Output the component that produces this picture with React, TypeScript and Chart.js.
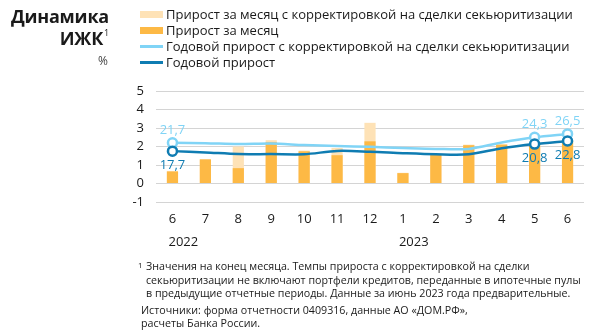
import React, { useEffect, useRef } from "react";
import { Chart, registerables } from "chart.js";

Chart.register(...registerables);

const months = ["6", "7", "8", "9", "10", "11", "12", "1", "2", "3", "4", "5", "6"];
const yearLabels = [
  { index: 0, text: "2022" },
  { index: 7, text: "2023" },
];
const monthlyGrowthAdj = [0.68, 1.32, 2.0, 2.34, 1.78, 1.92, 3.28, 0.58, 1.58, 2.1, 2.12, 2.1, 2.35];
const monthlyGrowth = [0.65, 1.3, 0.83, 2.23, 1.74, 1.53, 2.28, 0.56, 1.55, 2.07, 2.1, 2.07, 2.3];
const annualGrowthAdj = [2.2, 2.18, 2.13, 2.16, 2.08, 2.03, 1.98, 1.92, 1.87, 1.87, 2.22, 2.5, 2.68];
const annualGrowth = [1.75, 1.68, 1.59, 1.59, 1.58, 1.76, 1.72, 1.64, 1.58, 1.58, 1.9, 2.13, 2.3];
const annualGrowthAdjLabels: (string | null)[] = ["21,7", null, null, null, null, null, null, null, null, null, null, "24,3", "26,5"];
const annualGrowthLabels: (string | null)[] = ["17,7", null, null, null, null, null, null, null, null, null, null, "20,8", "22,8"];
const yTicks = [-1, 0, 1, 2, 3, 4, 5];

const seriesNames = [
  "Прирост за месяц с корректировкой на сделки секьюритизации",
  "Прирост за месяц",
  "Годовой прирост с корректировкой на сделки секьюритизации",
  "Годовой прирост",
];

const C_LIGHT_ORANGE = "#FEE2B6";
const C_ORANGE = "#FDB945";
const C_LIGHT_BLUE = "#80D4F6";
const C_DARK_BLUE = "#0F7CB2";
const FONT = "'Open Sans', 'DejaVu Sans', sans-serif";

const markerIdx = [0, 11, 12];

// dataset indices in the chart below
const DS_DARK = 0;
const DS_LIGHT = 1;

const overlayPlugin = {
  id: "overlay",
  afterDatasetsDraw(chart: any) {
    const ctx = chart.ctx;
    const labelSets = [
      { ds: DS_LIGHT, labels: annualGrowthAdjLabels, color: C_LIGHT_BLUE, dy: -13 },
      { ds: DS_DARK, labels: annualGrowthLabels, color: C_DARK_BLUE, dy: 14 },
    ];
    ctx.save();
    ctx.font = `13px ${FONT}`;
    ctx.textAlign = "center";
    ctx.textBaseline = "middle";
    labelSets.forEach((s) => {
      const meta = chart.getDatasetMeta(s.ds);
      s.labels.forEach((t, i) => {
        if (!t) return;
        const el = meta.data[i];
        ctx.fillStyle = s.color;
        ctx.fillText(t, el.x, el.y + s.dy);
      });
    });
    const xs = chart.scales.x;
    ctx.fillStyle = "#1a1a1a";
    ctx.textAlign = "left";
    ctx.font = `13px ${FONT}`;
    yearLabels.forEach((y) => {
      ctx.fillText(y.text, xs.getPixelForValue(y.index) - 4, chart.chartArea.bottom + 40);
    });
    ctx.restore();
  },
};

export default function App() {
  const ref = useRef<HTMLCanvasElement | null>(null);
  useEffect(() => {
    if (!ref.current) return;
    const pr = months.map((_, i) => (markerIdx.includes(i) ? 4.5 : 0));
    const chart = new Chart(ref.current, {
      type: "bar",
      data: {
        labels: months,
        datasets: [
          {
            type: "line",
            label: seriesNames[3],
            data: annualGrowth,
            borderColor: C_DARK_BLUE,
            backgroundColor: "#ffffff",
            borderWidth: 2.5,
            pointRadius: pr,
            pointBorderWidth: 2.5,
            pointBackgroundColor: "#ffffff",
            pointBorderColor: C_DARK_BLUE,
            tension: 0.3,
            order: 0,
          } as any,
          {
            type: "line",
            label: seriesNames[2],
            data: annualGrowthAdj,
            borderColor: C_LIGHT_BLUE,
            backgroundColor: "#ffffff",
            borderWidth: 2.5,
            pointRadius: pr,
            pointBorderWidth: 2.5,
            pointBackgroundColor: "#ffffff",
            pointBorderColor: C_LIGHT_BLUE,
            tension: 0.3,
            order: 1,
          } as any,
          {
            label: seriesNames[1],
            data: monthlyGrowth,
            backgroundColor: C_ORANGE,
            grouped: false,
            barPercentage: 0.34,
            categoryPercentage: 1,
            order: 2,
          } as any,
          {
            label: seriesNames[0],
            data: monthlyGrowthAdj,
            backgroundColor: C_LIGHT_ORANGE,
            grouped: false,
            barPercentage: 0.34,
            categoryPercentage: 1,
            order: 3,
          } as any,
        ],
      },
      options: {
        animation: false,
        responsive: false,
        devicePixelRatio: 1,
        layout: { padding: { left: 0, right: 12, top: 91, bottom: 89 } },
        plugins: { legend: { display: false }, tooltip: { enabled: false } },
        scales: {
          x: {
            offset: true,
            grid: { display: false, drawTicks: false },
            border: { display: false },
            ticks: { color: "#1a1a1a", font: { family: FONT, size: 13 }, padding: 9, maxRotation: 0, autoSkip: false },
            afterFit: (s: any) => {
              s.height = 45;
            },
          },
          y: {
            min: yTicks[0],
            max: yTicks[yTicks.length - 1],
            afterBuildTicks: (s: any) => {
              s.ticks = yTicks.map((v) => ({ value: v }));
            },
            grid: { color: "#d4d4d4", lineWidth: 1, drawTicks: false },
            border: { display: false },
            ticks: { color: "#1a1a1a", font: { family: FONT, size: 13 }, padding: 12, autoSkip: false },
            afterFit: (s: any) => {
              s.width = 156;
            },
          },
        },
      },
      plugins: [overlayPlugin],
    } as any);
    return () => chart.destroy();
  }, []);

  const legendItems = [
    { name: seriesNames[0], color: C_LIGHT_ORANGE, h: 7 },
    { name: seriesNames[1], color: C_ORANGE, h: 7 },
    { name: seriesNames[2], color: C_LIGHT_BLUE, h: 3 },
    { name: seriesNames[3], color: C_DARK_BLUE, h: 3 },
  ];

  return (
    <div style={{ position: "absolute", left: 0, top: 0, width: 596, height: 336, background: "#fff", fontFamily: FONT, color: "#1a1a1a" }}>
      <canvas ref={ref} width={596} height={336} style={{ position: "absolute", left: 0, top: 0, width: 596, height: 336 }} />
      <div style={{ position: "absolute", right: 596 - 109, top: 5, textAlign: "right", fontWeight: 700, fontSize: 18, lineHeight: "22px", whiteSpace: "nowrap", letterSpacing: -0.2 }}>
        <div>Динамика</div>
        <div>
          ИЖК<span style={{ fontSize: 9, fontWeight: 400, verticalAlign: "top", lineHeight: "12px", marginLeft: 1 }}>1</span>
        </div>
      </div>
      <div style={{ position: "absolute", right: 596 - 108, top: 52, fontSize: 12, color: "#444" }}>%</div>
      {legendItems.map((it, i) => (
        <div key={i} style={{ position: "absolute", left: 140, top: 6 + i * 16, height: 16, display: "flex", alignItems: "center", whiteSpace: "nowrap" }}>
          <div style={{ width: 23, height: it.h, background: it.color, marginRight: 3 }} />
          <span style={{ fontSize: 13 }}>{it.name}</span>
        </div>
      ))}
      <div style={{ position: "absolute", left: 138, top: 260, fontSize: 10.7, lineHeight: "13.5px", whiteSpace: "nowrap" }}>
        <div style={{ position: "relative", paddingLeft: 8 }}>
          <span style={{ position: "absolute", left: 0, top: -2, fontSize: 8 }}>1</span>
          Значения на конец месяца. Темпы прироста с корректировкой на сделки
          <br />
          секьюритизации не включают портфели кредитов, переданные в ипотечные пулы
          <br />
          в предыдущие отчетные периоды. Данные за июнь 2023 года предварительные.
        </div>
        <div style={{ marginTop: 3, paddingLeft: 3 }}>
          Источники: форма отчетности 0409316, данные АО «ДОМ.РФ»,
          <br />
          расчеты Банка России.
        </div>
      </div>
    </div>
  );
}
